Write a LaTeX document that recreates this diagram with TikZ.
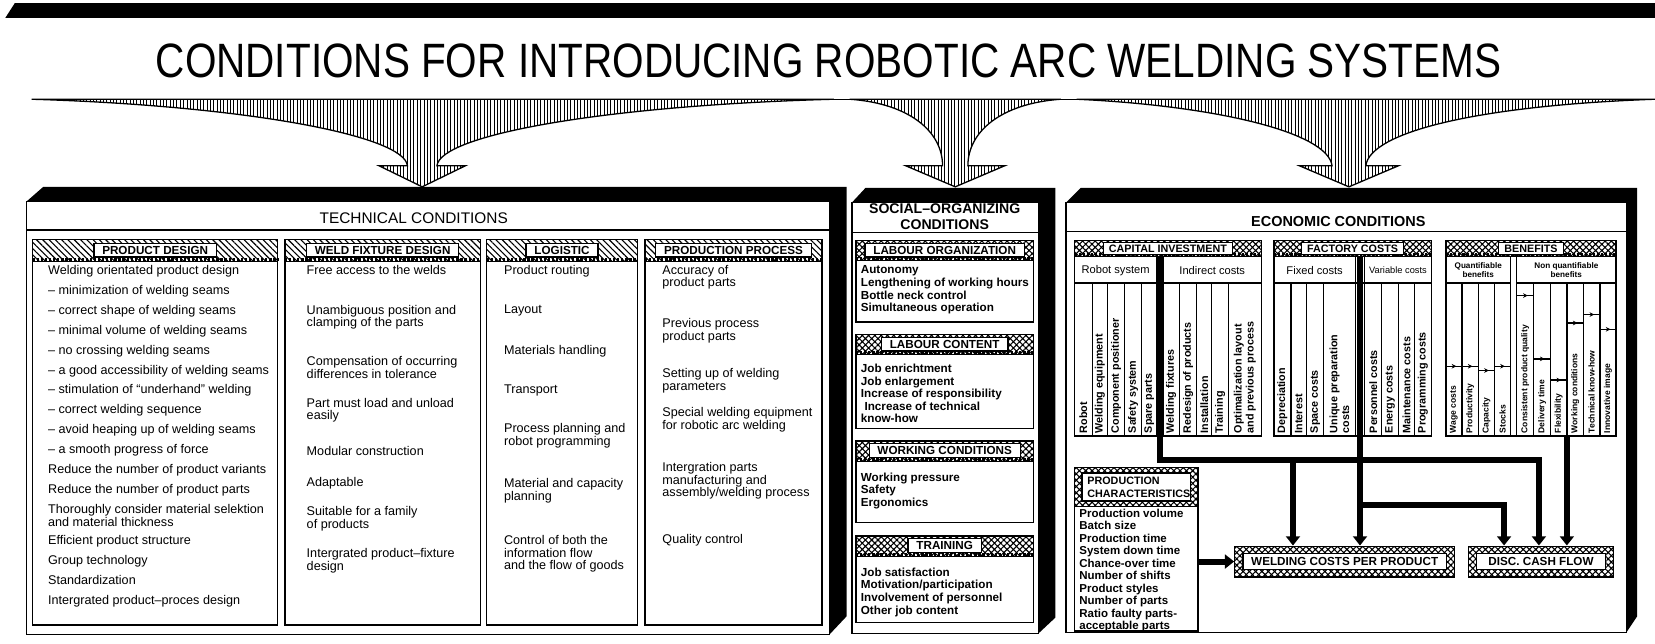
\documentclass[tikz,border=0pt]{standalone}
\usepackage{fontspec}
\setmainfont{Liberation Sans}
\newfontfamily\titlefont[FakeStretch=0.84]{Liberation Sans}
\usetikzlibrary{patterns.meta,arrows.meta,decorations.markings,backgrounds,fit}

\tikzset{
  vhatch/.style={pattern={Lines[angle=90,distance=1.8pt,line width=0.45pt]}},
  diaghatch/.style={pattern={Lines[angle=-45,distance=2.4pt,line width=0.6pt]}},
  xhatch/.style={pattern={Hatch[angle=45,distance=2.4pt,line width=0.6pt]}},
  dotstrip/.style={line width=1.6pt, dash pattern=on 1.2pt off 1pt},
  panel/.style={draw, line width=0.8pt},
  hdrlabel/.style={draw, fill=white, line width=0.7pt, inner xsep=4.5pt, inner ysep=1.5pt,
    font=\bfseries\fontsize{6.3}{6.3}\selectfont},
  txt/.style={anchor=north west, inner sep=0pt, align=left, yshift=3.8pt,
    execute at begin node=\strut, font=\fontsize{6.8}{6.9}\selectfont},
  soctxt/.style={txt, font=\bfseries\fontsize{6.3}{6.8}\selectfont},
  collab/.style={rotate=90, anchor=west, inner sep=0pt, align=left,
    font=\bfseries\fontsize{5.8}{6.4}\selectfont},
  benlab/.style={collab, font=\bfseries\fontsize{4.6}{5}\selectfont},
  flow/.style={line width=3.2pt, line join=miter, -{Triangle[width=7.5pt,length=5pt]}},
  levelmark/.style={postaction={decorate}, decoration={markings,
    mark=at position 0.65 with {\arrow{Stealth[length=2.5pt,width=2.5pt]}}}},
}

\begin{document}
\begin{tikzpicture}[x=0.02cm, y=-0.02cm, line width=0.7pt]
\useasboundingbox (0,0) rectangle (1568,610);

% heading
\fill (5,17) -- (14,3) -- (1568,3) -- (1568,17) -- cycle;
\node[font=\titlefont\fontsize{26}{26}\selectfont] (title) at (785,58)
  {CONDITIONS FOR INTRODUCING ROBOTIC ARC WELDING SYSTEMS};

% funnels
\draw (30,94) -- (1568,94);
\draw[vhatch] (30,94) .. controls (230,100) and (383,128) .. (386,157) -- (359,157) -- (400,177)
  -- (441,157) -- (414,157) .. controls (417,128) and (570,100) .. (790,94) -- cycle;
\draw[vhatch] (805,94) .. controls (862,98) and (893,125) .. (893,157) -- (858,157) -- (905,177)
  -- (952,157) -- (917,157) .. controls (917,125) and (948,98) .. (1005,94) -- cycle;
\draw[vhatch] (1020,94) .. controls (1150,100) and (1258,125) .. (1262,157) -- (1231,157) -- (1278,177)
  -- (1325,157) -- (1294,157) .. controls (1298,125) and (1400,100) .. (1568,94) -- cycle;

% the three blocks
\fill (25,191) -- (41,177) -- (802,177) -- (802,584) -- (786,601) -- (786,191) -- cycle;
\draw[panel] (25,191) rectangle (786,601);
\fill (807,192) -- (820,178) -- (1000,178) -- (1000,585) -- (984,600) -- (984,192) -- cycle;
\draw[panel] (807,192) rectangle (984,600);
\fill (1010,192) -- (1024,178) -- (1551,178) -- (1551,584) -- (1541,599) -- (1541,192) -- cycle;
\draw[panel] (1010,192) rectangle (1541,599);

% technical conditions
\node[font=\fontsize{8.3}{8.3}\selectfont] (tech) at (392,207) {TECHNICAL CONDITIONS};
\draw (25,218) -- (786,218);
\foreach \nm/\xa/\xb/\lab in {pdh/31/263/PRODUCT DESIGN, wfdh/270/455/WELD FIXTURE DESIGN,
    logh/461/604/LOGISTIC, pph/611/779/PRODUCTION PROCESS} {
  \draw[panel] (\xa,227) rectangle (\xb,592);
  \draw[diaghatch] (\xa,227) rectangle (\xb,248);
  \draw[dotstrip] (\xa,246) -- (\xb,246);
  \node[hdrlabel] (\nm) at ({(\xa+\xb)/2},237) {\lab};
}
\foreach \y/\t [count=\i] in {257/{Welding orientated product design},
    276/{-- minimization of welding seams}, 295/{-- correct shape of welding seams},
    314/{-- minimal volume of welding seams}, 333/{-- no crossing welding seams},
    352/{-- a good accessibility of welding seams}, 370/{-- stimulation of ``underhand'' welding},
    389/{-- correct welding sequence}, 408/{-- avoid heaping up of welding seams},
    427/{-- a smooth progress of force}, 446/{Reduce the number of product variants},
    465/{Reduce the number of product parts},
    484/{Thoroughly consider material selektion\\and material thickness},
    513/{Efficient product structure}, 532/{Group technology}, 551/{Standardization},
    570/{Intergrated product--proces design}}
  \node[txt] (pd\i) at (45,\y) {\t};
\foreach \y/\t [count=\i] in {257/{Free access to the welds},
    295/{Unambiguous position and\\clamping of the parts},
    344/{Compensation of occurring\\differences in tolerance},
    383/{Part must load and unload\\easily}, 429/{Modular construction}, 458/{Adaptable},
    486/{Suitable for a family\\of products}, 526/{Intergrated product--fixture\\design}}
  \node[txt] (wfd\i) at (290,\y) {\t};
\foreach \y/\t [count=\i] in {257/{Product routing}, 295/{Layout}, 333/{Materials handling},
    370/{Transport}, 407/{Process planning and\\robot programming},
    459/{Material and capacity\\planning},
    513/{Control of both the\\information flow\\and the flow of goods}}
  \node[txt] (log\i) at (477,\y) {\t};
\foreach \y/\t [count=\i] in {257/{Accuracy of\\product parts}, 308/{Previous process\\product parts},
    355/{Setting up of welding\\parameters},
    392/{Special welding equipment\\for robotic arc welding},
    444/{Intergration parts\\manufacturing and\\assembly/welding process},
    512/{Quality control}}
  \node[txt] (pp\i) at (627,\y) {\t};

% social-organizing conditions
\node[align=center, font=\bfseries\fontsize{7.6}{8.4}\selectfont] (soc) at (895,205)
  {SOCIAL--ORGANIZING\\CONDITIONS};
\draw (807,220) -- (984,220);
\foreach \nm/\ya/\yb/\lab in {loh/228/305/LABOUR ORGANIZATION, lch/317/406/LABOUR CONTENT,
    wch/418/495/WORKING CONDITIONS, trh/508/590/TRAINING} {
  \draw[panel] (811,\ya) rectangle (979,\yb);
  \draw[xhatch] (811,\ya) rectangle (979,\ya+19);
  \draw[dotstrip] (811,\ya+17) -- (979,\ya+17);
  \node[hdrlabel] (\nm) at (895,\ya+9) {\lab};
}
\node[soctxt] (lo) at (815,258)
  {Autonomy\\Lengthening of working hours\\Bottle neck control\\Simultaneous operation};
\node[soctxt] (lc) at (815,351)
  {Job enrichtment\\Job enlargement\\Increase of responsibility\\\hspace{2pt}Increase of technical\\know-how};
\node[soctxt] (wc) at (815,454) {Working pressure\\Safety\\Ergonomics};
\node[soctxt] (tr) at (815,544)
  {Job satisfaction\\Motivation/participation\\Involvement of personnel\\Other job content};

% economic conditions
\node[font=\bfseries\fontsize{7.8}{7.8}\selectfont] (eco) at (1268,210) {ECONOMIC CONDITIONS};
\draw (1010,219.5) -- (1541,219.5);
\foreach \nm/\xa/\xb/\lab in {cih/1018/1195/CAPITAL INVESTMENT, fch/1207/1356/FACTORY COSTS,
    beh/1370/1531/BENEFITS} {
  \draw[panel] (\xa,228) rectangle (\xb,413);
  \draw[xhatch] (\xa,228) rectangle (\xb,243);
  \draw[dotstrip] (\xa,241.5) -- (\xb,241.5);
  \node[hdrlabel, font=\bfseries\fontsize{5.8}{5.8}\selectfont, inner xsep=3pt, inner ysep=1.1pt]
    (\nm) at ({(\xa+\xb)/2},235.5) {\lab};
}
\foreach \xa/\xb in {1018/1195, 1207/1356, 1370/1431, 1437/1531}
  \draw (\xa,268) -- (\xb,268);
\foreach \x in {1096,1102,1284,1293,1431,1437}
  \draw (\x,243) -- (\x,413);
\foreach \x in {1034.8,1049.4,1065.2,1081.6,1117.3,1133.8,1148,1163.7,
    1223,1238,1254,1309,1325,1340,1385,1400.5,1416,1453,1469,1484.5,1500,1516}
  \draw (\x,268) -- (\x,413);
\node[font=\fontsize{6}{6}\selectfont] (cirs) at (1057,256) {Robot system};
\node[font=\fontsize{6}{6}\selectfont] (ciic) at (1148.5,256) {Indirect costs};
\node[font=\fontsize{6}{6}\selectfont] (fcfx) at (1245.5,256) {Fixed costs};
\node[font=\fontsize{5}{5}\selectfont] (fcvr) at (1324.5,256) {Variable costs};
\node[align=center, font=\bfseries\fontsize{4.4}{4.8}\selectfont] (beq) at (1400.5,256)
  {Quantifiable\\benefits};
\node[align=center, font=\bfseries\fontsize{4.4}{4.8}\selectfont] (benq) at (1484,256)
  {Non quantifiable\\benefits};
\foreach \xa/\xb/\t [count=\i] in {1018/1034.8/Robot, 1034.8/1049.4/Welding equipment,
    1049.4/1065.2/Component positioner, 1065.2/1081.6/Safety system, 1081.6/1096/Spare parts,
    1102/1117.3/Welding fixtures, 1117.3/1133.8/Redesign of products,
    1133.8/1148/Installation, 1148/1163.7/Training,
    1163.7/1195/{Optimalization layout\\and previous process}}
  \node[collab] (cicol\i) at ({(\xa+\xb)/2},411) {\t};
\foreach \xa/\xb/\t [count=\i] in {1207/1223/Depreciation, 1223/1238/Interest,
    1238/1254/Space costs, 1254/1284/{Unique preparation\\costs},
    1293/1309/Personnel costs, 1309/1325/Energy costs, 1325/1340/Maintenance costs,
    1340/1356/Programming costs}
  \node[collab] (fccol\i) at ({(\xa+\xb)/2},411) {\t};
\foreach \xa/\xb/\t/\l [count=\i] in {1370/1385/Wage costs/347, 1385/1400.5/Productivity/347,
    1400.5/1416/Capacity/351, 1416/1431/Stocks/347,
    1437/1453/Consistent product quality/280, 1453/1469/Delivery time/340,
    1469/1484.5/Flexibility/360, 1484.5/1500/Working conditions/306,
    1500/1516/Technical know-how/298, 1516/1531/Innovative image/312} {
  \draw[levelmark] (\xa,\l) -- (\xb,\l);
  \node[benlab] (becol\i) at ({(\xa+\xb)/2},411) {\t};
}

% production characteristics
\draw[xhatch] (1018,443) rectangle (1135,480);
\node[hdrlabel, align=left, text width=1.85cm, inner xsep=3pt, inner ysep=2pt,
  font=\bfseries\fontsize{5.8}{7}\selectfont] (pch) at (1076.5,461.5) {PRODUCTION\\CHARACTERISTICS};
\draw[panel] (1018,480) rectangle (1135,598);
\node[soctxt, font=\bfseries\fontsize{6.2}{6.75}\selectfont] (pcl) at (1022,488)
  {Production volume\\Batch size\\Production time\\System down time\\Chance-over time\\
   Number of shifts\\Product styles\\Number of parts\\Ratio faulty parts-\\acceptable parts};

% results
\node[hdrlabel, minimum width=3.85cm, inner ysep=2.2pt] (wcpp) at (1274,532) {WELDING COSTS PER PRODUCT};
\node[hdrlabel, minimum width=2.45cm, inner ysep=2.2pt] (dcf) at (1460,532) {DISC.\ CASH FLOW};
\begin{scope}[on background layer]
  \node[draw, line width=0.7pt, xhatch, fit=(wcpp), inner xsep=4pt, inner ysep=3.5pt] (wcppf) {};
  \node[draw, line width=0.7pt, xhatch, fit=(dcf), inner xsep=4pt, inner ysep=3.5pt] (dcff) {};
\end{scope}

% cost flows
\coordinate (cibar) at (1099,243);
\coordinate (cijoin) at (1099,436);
\coordinate (cidcf) at (1458,436);
\coordinate (wcjoin) at (1225,436);
\coordinate (fcbar) at (1288.5,243);
\coordinate (fcjoin) at (1288.5,478);
\coordinate (fcdcf) at (1425,478);
\coordinate (bebar) at (1484.5,413);
\coordinate (pcout) at (1135,532);
\draw[flow] (cibar) -- (cijoin) -- (cidcf) -- (cidcf |- dcff.north);
\draw[flow] (wcjoin) -- (wcjoin |- wcppf.north);
\draw[flow] (fcbar) -- (fcbar |- wcppf.north);
\draw[flow] (fcjoin) -- (fcdcf) -- (fcdcf |- dcff.north);
\draw[flow] (bebar) -- (bebar |- dcff.north);
\draw[flow] (pcout) -- (pcout -| wcppf.west);
\end{tikzpicture}
\end{document}
